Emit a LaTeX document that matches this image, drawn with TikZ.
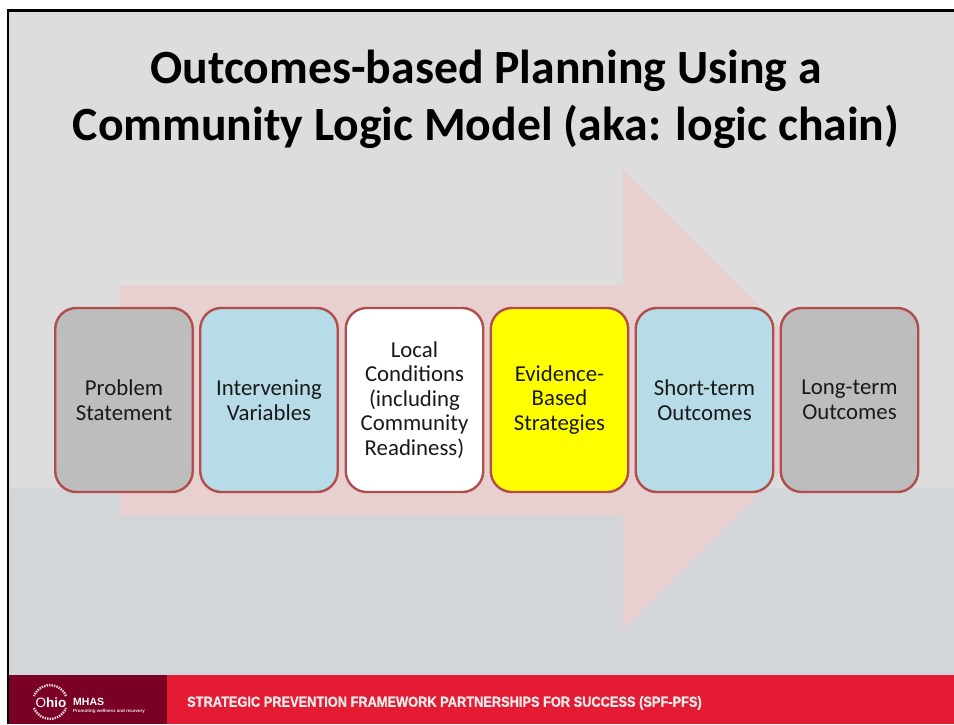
\documentclass[tikz,border=0pt]{standalone}
\usepackage{fontspec}
\setmainfont{Carlito}
\newfontfamily\footfont[UprightFont=* Bold,FakeStretch=0.877,FakeBold=1]{Liberation Sans}
\newfontfamily\logofont{Liberation Sans}
\definecolor{bgtop}{HTML}{DDDDDD}
\definecolor{bgbot}{HTML}{D2D6D9}
\definecolor{arrowc}{HTML}{E8D0D1}
\definecolor{edgec}{HTML}{B04E4C}
\definecolor{grayb}{HTML}{BDBDBD}
\definecolor{blueb}{HTML}{B7DCE8}
\definecolor{yellowb}{HTML}{FFFF00}
\definecolor{darkred}{HTML}{7A0026}
\definecolor{brightred}{HTML}{E51A33}
\tikzset{
  x=1pt,y=-1pt,
  stepbox/.style={draw=edgec,line width=2.4pt,rounded corners=21pt,minimum width=137.5pt,minimum height=184pt,inner sep=0pt,align=center,font=\fontsize{22.8}{24.6}\selectfont,text=black!90},
  band/.style={draw=none,fill=#1},
  ringarc/.style={draw=white!80!darkred,line width=2.4pt,dash pattern=on 1.5pt off 1pt}
}
\begin{document}
\begin{tikzpicture}
\useasboundingbox (0,0) rectangle (954,724);
\fill[white] (0,0) rectangle (954,724);
\fill[bgtop] (8,10) rectangle (954,488);
\fill[bgbot] (8,488) rectangle (954,675);
\fill[arrowc] (120,285) -- (623,285) -- (623,170) -- (853,400) -- (623,630) -- (623,516) -- (120,516) -- cycle;
\node[stepbox,fill=grayb] (a) at (124,400) {Problem\\Statement};
\node[stepbox,fill=blueb] (b) at (269,400) {Intervening\\Variables};
\node[stepbox,fill=white] (c) at (414.5,400) {Local\\Conditions\\(including\\Community\\Readiness)};
\node[stepbox,fill=yellowb] (d) at (559.5,400) {Evidence-\\Based\\Strategies};
\node[stepbox,fill=blueb] (e) at (704.5,400) {Short-term\\Outcomes};
\node[stepbox,fill=grayb] (f) at (849.5,400) {Long-term\\Outcomes};
\node[font=\fontsize{47.7}{57}\selectfont\bfseries,align=center,text=black] (t) at (486,99) {Outcomes-based Planning Using a\\Community Logic Model (aka: logic chain)};
\fill[band=darkred] (8,675) rectangle (167,724);
\fill[band=brightred] (167,675) rectangle (954,724);
\node[font=\footfont\fontsize{14.6}{16}\selectfont,text=white!92!black,anchor=west,inner sep=0pt] (s) at (187,703) {STRATEGIC PREVENTION FRAMEWORK PARTNERSHIPS FOR SUCCESS (SPF-PFS)};
\draw[ringarc] (66,696) arc[start angle=-22,end angle=-158,radius=17.3];
\draw[ringarc] (34,708) arc[start angle=158,end angle=22,radius=17.3];
\node[font=\logofont\fontsize{13.5}{14}\selectfont,text=white,inner sep=0pt] (o) at (51,703) {O\textbf{hio}};
\node[font=\logofont\fontsize{10.5}{11}\selectfont\bfseries,text=white,anchor=west,inner sep=0pt] (m) at (73,702) {MHAS};
\node[font=\logofont\fontsize{4.5}{5}\selectfont\bfseries,text=white!80!gray,anchor=west,inner sep=0pt] (p) at (73,711) {Promoting wellness and recovery};
\draw[black,line width=2.4pt] (8,724) -- (8,10.5) -- (954,10.5);
\end{tikzpicture}
\end{document}
